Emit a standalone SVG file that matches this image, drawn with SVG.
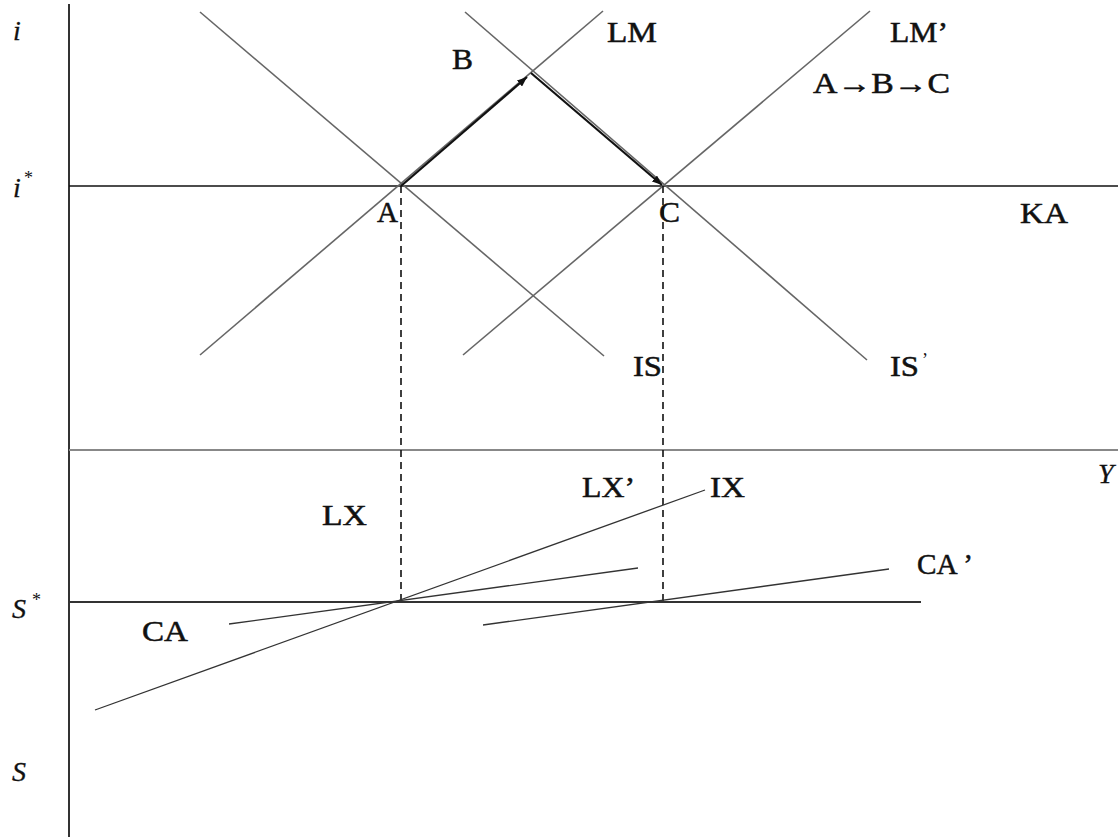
<svg xmlns="http://www.w3.org/2000/svg" width="1118" height="837" viewBox="0 0 1118 837">
<style>
.lbl{font-family:"Liberation Serif","Times New Roman",serif;font-size:29px;fill:#111;stroke:#111;stroke-width:0.5}
.it{font-family:"Liberation Serif","Times New Roman",serif;font-size:28px;font-style:italic;fill:#111;stroke:#111;stroke-width:0.3}
.star{font-family:"Liberation Serif","Times New Roman",serif;font-size:18px;fill:#111}
.axis{stroke:#333;stroke-width:2;fill:none}
.hline{stroke:#111;stroke-width:1.6;fill:none}
.curve{stroke:#666;stroke-width:1.6;fill:none}
.thin{stroke:#333;stroke-width:1.3;fill:none}
.dash{stroke:#111;stroke-width:1.6;stroke-dasharray:7,5;fill:none}
.move{stroke:#111;stroke-width:2.2;fill:none}
</style>
<defs>
<marker id="ah" viewBox="0 0 10 8" refX="10" refY="4" markerWidth="10" markerHeight="8" markerUnits="userSpaceOnUse" orient="auto">
<path d="M0,0 L10,4 L0,8 Z" fill="#111"/>
</marker>
</defs>
<rect width="1118" height="837" fill="#fff"/>
<g id="axes">
<line class="axis" x1="69" y1="4" x2="69" y2="837"/>
<line class="hline" x1="69" y1="186" x2="1118" y2="186"/>
<line x1="69" y1="450" x2="1118" y2="450" stroke="#888" stroke-width="2"/>
<line class="axis" x1="69" y1="602" x2="921" y2="602"/>
</g>
<g id="connectors">
<line class="curve" x1="200" y1="12" x2="604" y2="356"/>
<line class="curve" x1="465" y1="12" x2="867" y2="360"/>
<line class="curve" x1="200" y1="355" x2="603" y2="11"/>
<line class="curve" x1="463" y1="355" x2="870" y2="11"/>
<line class="dash" x1="401" y1="186" x2="401" y2="602"/>
<line class="dash" x1="663" y1="186" x2="663" y2="602"/>
<line class="move" x1="401" y1="186" x2="527" y2="77" marker-end="url(#ah)"/>
<line class="move" x1="531" y1="73" x2="662" y2="185" marker-end="url(#ah)"/>
<line class="thin" x1="95" y1="710" x2="705" y2="490"/>
<line class="thin" x1="229" y1="624" x2="638" y2="568"/>
<line class="thin" x1="483" y1="625" x2="889" y2="569"/>
</g>
<g id="labels">
<text class="it" x="13" y="40">i</text>
<text class="it" x="13" y="197">i</text>
<text class="star" x="24" y="184">*</text>
<text class="it" x="12" y="618">S</text>
<text class="star" x="32" y="606">*</text>
<text class="it" x="12" y="781">S</text>
<text class="it" x="1098" y="483">Y</text>
<text class="lbl" x="452" y="69" textLength="21" lengthAdjust="spacingAndGlyphs">B</text>
<text class="lbl" x="607" y="42" textLength="50" lengthAdjust="spacingAndGlyphs">LM</text>
<text class="lbl" x="890" y="42" textLength="58" lengthAdjust="spacingAndGlyphs">LM’</text>
<text class="lbl" x="813" y="93" textLength="137" lengthAdjust="spacingAndGlyphs">A→B→C</text>
<text class="lbl" x="377" y="222" textLength="21" lengthAdjust="spacingAndGlyphs">A</text>
<text class="lbl" x="659" y="222" textLength="21" lengthAdjust="spacingAndGlyphs">C</text>
<text class="lbl" x="1020" y="223" textLength="48" lengthAdjust="spacingAndGlyphs">KA</text>
<text class="lbl" x="633" y="376" textLength="29" lengthAdjust="spacingAndGlyphs">IS</text>
<text class="lbl" x="890" y="376" textLength="29" lengthAdjust="spacingAndGlyphs">IS</text>
<text class="star" x="922" y="366">’</text>
<text class="lbl" x="322" y="525" textLength="45" lengthAdjust="spacingAndGlyphs">LX</text>
<text class="lbl" x="582" y="497" textLength="53" lengthAdjust="spacingAndGlyphs">LX’</text>
<text class="lbl" x="710" y="497" textLength="35" lengthAdjust="spacingAndGlyphs">IX</text>
<text class="lbl" x="142" y="641" textLength="46" lengthAdjust="spacingAndGlyphs">CA</text>
<text class="lbl" x="917" y="574" textLength="56" lengthAdjust="spacingAndGlyphs">CA ’</text>
</g>
</svg>
